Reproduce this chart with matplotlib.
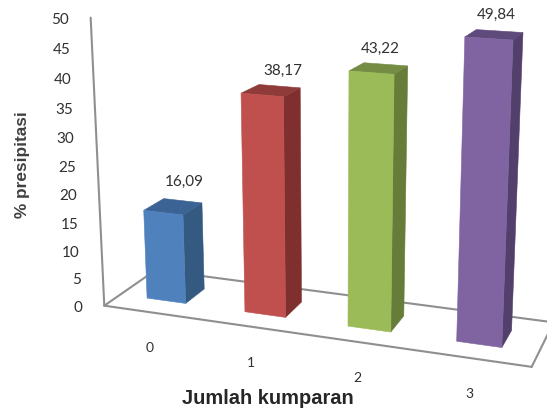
import numpy as np
import matplotlib
matplotlib.use("Agg")
import matplotlib.pyplot as plt
from matplotlib.patches import Polygon

# Chart values
categories = ["0", "1", "2", "3"]
values = [16.09, 38.17, 43.22, 49.84]
value_labels = ["16,09", "38,17", "43,22", "49,84"]
y_ticks = [0, 5, 10, 15, 20, 25, 30, 35, 40, 45, 50]
x_title = "Jumlah kumparan"
y_title = "% presipitasi"

# Face colours: front, side, top
front_colors = ["#4f81bd", "#c0504d", "#9bbb59", "#8064a2"]
side_colors = ["#345a82", "#7f302e", "#667d39", "#533f6b"]
top_colors = ["#3b6495", "#8f3b39", "#748c43", "#5f4a7c"]

# Perspective camera: (category, depth, value) -> pixel position
CAMERA = np.array([
    [93.2026, 63.95449, -0.37579, 104.28468],
    [5.88466, -14.1765, -5.78069, 305.6704],
    [-0.02566, 0.07988, -0.00114, 1.0],
])
BAR_WIDTH = 0.40
BAR_FRONT, BAR_BACK = 0.30, 0.692
N_SLOTS = len(categories)
Y_MAX = y_ticks[-1]


def project(x, depth, value):
    u, v, w = CAMERA @ np.array([x, depth, value, 1.0])
    return u / w, v / w


fig = plt.figure(figsize=(5.47, 4.08), dpi=100)
ax = fig.add_axes([0, 0, 1, 1])
ax.set_xlim(0, 547)
ax.set_ylim(408, 0)
ax.axis("off")

AXIS_GREY = "#8f8f8f"
TEXT_COLOR = "#303030"
TICK_FONT = "Lato"


def frame_line(a, b, lw=1.5):
    ax.plot(*zip(project(*a), project(*b)), color=AXIS_GREY, lw=lw,
            solid_capstyle="round", zorder=1)


# Floor outline and value axis
frame_line((0, 0, 0), (0, 0, Y_MAX))
frame_line((0, 0, 0), (N_SLOTS, 0, 0))
frame_line((0, 0, 0), (0, 1, 0))
frame_line((0, 1, 0), (N_SLOTS, 1, 0))
frame_line((N_SLOTS, 0, 0), (N_SLOTS, 1, 0))

# Bars as three visible faces of a box
for i, v in enumerate(values):
    left = i + 0.48 - BAR_WIDTH / 2
    right = left + BAR_WIDTH
    front = [project(left, BAR_FRONT, 0), project(right, BAR_FRONT, 0),
             project(right, BAR_FRONT, v), project(left, BAR_FRONT, v)]
    side = [project(right, BAR_FRONT, 0), project(right, BAR_BACK, 0),
            project(right, BAR_BACK, v), project(right, BAR_FRONT, v)]
    top = [project(left, BAR_FRONT, v), project(right, BAR_FRONT, v),
           project(right, BAR_BACK, v), project(left, BAR_BACK, v)]
    for face, color in zip((side, top, front),
                           (side_colors[i], top_colors[i], front_colors[i])):
        ax.add_patch(Polygon(face, closed=True, facecolor=color,
                             edgecolor=color, lw=0.4, zorder=3))

# Value-axis tick labels follow the slanted axis
for t in y_ticks:
    px, py = project(0, 0, t)
    ax.text(px - 22, py + 2, str(t), ha="right", va="center",
            fontsize=11, color=TEXT_COLOR, family=TICK_FONT, zorder=5)

# Category labels below the front edge of the floor
for i, name in enumerate(categories):
    px, py = project(i + 0.48, 0, 0)
    ax.text(px - 1, py + 36, name, ha="center", va="center",
            fontsize=10, color=TEXT_COLOR, family=TICK_FONT, zorder=5)

# Value labels above each bar
label_offsets = [(11, -25), (12, -20), (2, -20), (2, -20)]
for i, (v, text) in enumerate(zip(values, value_labels)):
    px, py = project(i + 0.48, (BAR_FRONT + BAR_BACK) / 2, v)
    ax.text(px + label_offsets[i][0], py + label_offsets[i][1], text,
            ha="center", va="center", fontsize=11, color=TEXT_COLOR,
            family=TICK_FONT, zorder=5)

# Axis titles
ax.text(268, 398, x_title, ha="center", va="center", fontsize=14.4,
        fontweight="bold", color="#262626", family="Liberation Sans", zorder=5)
ax.text(23, 165, y_title, ha="center", va="center", rotation=90, fontsize=12.4,
        fontweight="bold", color="#404040", family="Liberation Sans", zorder=5)

fig.savefig("out.png", dpi=100, facecolor="white")
